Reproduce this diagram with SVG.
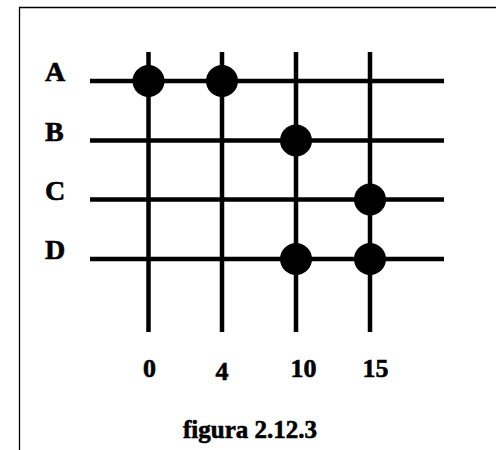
<svg xmlns="http://www.w3.org/2000/svg" width="496" height="450" viewBox="0 0 496 450">
<style>
.frame{fill:none;stroke:#000;stroke-width:1.3}
.ln{stroke:#000;stroke-width:4.5;fill:none}
.dot{fill:#000}
.lbl{font-family:"Liberation Serif","Times New Roman",serif;font-weight:bold;fill:#000;stroke:#000;stroke-width:0.6}
.row{font-size:28px}
.col{font-size:26px;text-anchor:middle}
.cap{font-size:25px;text-anchor:middle}
</style>
<rect width="496" height="450" fill="#fff"/>
<path class="frame" d="M19.5,450 V7.5 H496"/>
<g id="connectors">
<line class="ln" x1="90" y1="81" x2="444" y2="81"/>
<line class="ln" x1="90" y1="140.5" x2="444" y2="140.5"/>
<line class="ln" x1="90" y1="199.5" x2="444" y2="199.5"/>
<line class="ln" x1="90" y1="259" x2="444" y2="259"/>
<line class="ln" x1="148.5" y1="52" x2="148.5" y2="332"/>
<line class="ln" x1="222" y1="52" x2="222" y2="332"/>
<line class="ln" x1="296" y1="52" x2="296" y2="332"/>
<line class="ln" x1="370" y1="52" x2="370" y2="332"/>
</g>
<g id="row-labels">
<text class="lbl row" x="45" y="81">A</text>
<text class="lbl row" x="45" y="140.5">B</text>
<text class="lbl row" x="45" y="200">C</text>
<text class="lbl row" x="45" y="259">D</text>
</g>
<g id="dots">
<circle id="A0" class="dot" cx="148.5" cy="81" r="16"/>
<circle id="A4" class="dot" cx="222" cy="81" r="16"/>
<circle id="B10" class="dot" cx="296" cy="140.5" r="16"/>
<circle id="C15" class="dot" cx="370" cy="199.5" r="16"/>
<circle id="D10" class="dot" cx="296" cy="259" r="16"/>
<circle id="D15" class="dot" cx="370" cy="259" r="16"/>
</g>
<g id="col-labels">
<text class="lbl col" x="149.5" y="377">0</text>
<text class="lbl col" x="222" y="380">4</text>
<text class="lbl col" x="303.5" y="377">10</text>
<text class="lbl col" x="375.5" y="377">15</text>
</g>
<g id="caption">
<text class="lbl cap" x="250" y="437.5">figura 2.12.3</text>
</g>
</svg>
